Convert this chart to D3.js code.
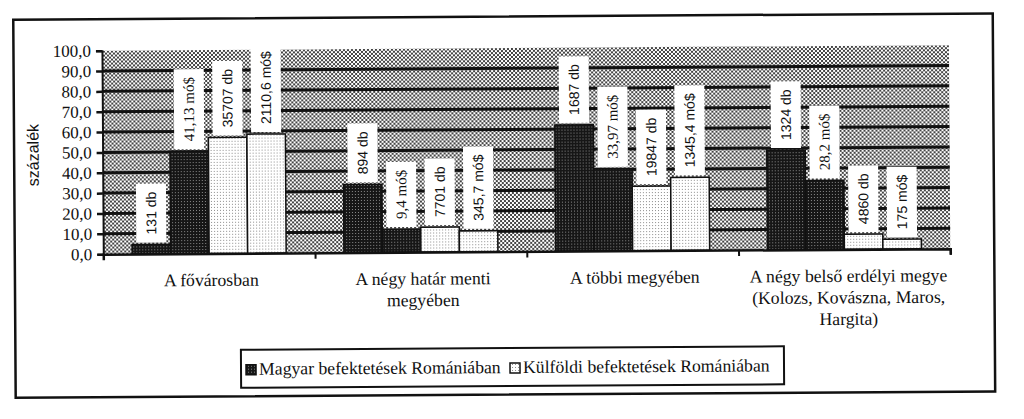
<!DOCTYPE html>
<html>
<head>
<meta charset="utf-8">
<script src="https://d3js.org/d3.v7.min.js"></script>
<style>
  body { margin: 0; background: #fff; }
</style>
</head>
<body>
<svg width="1024" height="419"></svg>
<script>

  var categories = ["A fővárosban", "A négy határ menti megyében", "A többi megyében", "A négy belső erdélyi megye (Kolozs, Kovászna, Maros, Hargita)"];
  var categoryLines = [["A fővárosban"], ["A négy határ menti", "megyében"], ["A többi megyében"], ["A négy belső erdélyi megye", "(Kolozs, Kovászna, Maros,", "Hargita)"]];

  // percentages, plus the text printed above each bar
  var magyarDb = [4.6, 33.5, 62.0, 49.0];
  var magyarDbLabels = ["131 db", "894 db", "1687 db", "1324 db"];
  var magyarMo = [50.3, 11.4, 40.3, 34.0];
  var magyarMoLabels = ["41,13 mó$", "9,4 mó$", "33,97 mó$", "28,2 mó$"];
  var kulfoldiDb = [57.0, 12.2, 31.7, 7.4];
  var kulfoldiDbLabels = ["35707 db", "7701 db", "19847 db", "4860 db"];
  var kulfoldiMo = [58.5, 10.3, 35.9, 4.8];
  var kulfoldiMoLabels = ["2110,6 mó$", "345,7 mó$", "1345,4 mó$", "175 mó$"];

  var yTicks = [0, 10, 20, 30, 40, 50, 60, 70, 80, 90, 100];
  var legendNames = ["Magyar befektetések Romániában", "Külföldi befektetések Romániában"];

  var sans = "'Liberation Sans', Arial, sans-serif";
  var serif = "'Liberation Serif', 'Times New Roman', serif";

  var series = [
    { key: "magyarDb", values: magyarDb, labels: magyarDbLabels, dark: true, font: sans, size: 14 },
    { key: "magyarMo", values: magyarMo, labels: magyarMoLabels, dark: true, font: serif, size: 15 },
    { key: "kulfoldiDb", values: kulfoldiDb, labels: kulfoldiDbLabels, dark: false, font: sans, size: 14 },
    { key: "kulfoldiMo", values: kulfoldiMo, labels: kulfoldiMoLabels, dark: false, font: sans, size: 14 }
  ];

  var svg = d3.select("svg");

  // halftone fills
  var defs = svg.append("defs");
  var bg = defs.append("pattern").attr("id", "bgDots").attr("width", 4).attr("height", 4).attr("patternUnits", "userSpaceOnUse");
  bg.append("rect").attr("width", 4).attr("height", 4).attr("fill", "#fff");
  bg.append("rect").attr("width", 2).attr("height", 2).attr("fill", "#444");
  bg.append("rect").attr("x", 2).attr("y", 2).attr("width", 2).attr("height", 2).attr("fill", "#444");

  var dk = defs.append("pattern").attr("id", "darkDots").attr("width", 3).attr("height", 3).attr("patternUnits", "userSpaceOnUse");
  dk.append("rect").attr("width", 3).attr("height", 3).attr("fill", "#161616");
  dk.append("rect").attr("x", 1).attr("y", 1).attr("width", 1).attr("height", 1).attr("fill", "#8a8a8a");

  var lt = defs.append("pattern").attr("id", "lightDots").attr("width", 3).attr("height", 3).attr("patternUnits", "userSpaceOnUse");
  lt.append("rect").attr("width", 3).attr("height", 3).attr("fill", "#fff");
  lt.append("rect").attr("x", 1).attr("y", 1).attr("width", 1).attr("height", 1).attr("fill", "#8c8c8c");

  // the scanned page is a little tilted
  var g = svg.append("g").attr("transform", "rotate(-0.37, 512, 210)");

  g.append("rect")
    .attr("x", 14.5).attr("y", 16.5).attr("width", 979.5).attr("height", 378)
    .attr("fill", "none").attr("stroke", "#111").attr("stroke-width", 2.5);

  var plotLeft = 103, plotRight = 950, plotTop = 48, plotBottom = 251.5;

  var x0 = d3.scaleBand().domain(categories).range([plotLeft, plotRight]).paddingInner(0).paddingOuter(0);
  var x1 = d3.scaleBand().domain(series.map(function(s) { return s.key; })).range([0, x0.bandwidth()]).paddingInner(0).paddingOuter(0.75);
  var y = d3.scaleLinear().domain([0, 100]).range([plotBottom, plotTop]);

  g.append("rect")
    .attr("x", plotLeft).attr("y", plotTop).attr("width", plotRight - plotLeft).attr("height", plotBottom - plotTop)
    .attr("fill", "url(#bgDots)");

  g.append("g")
    .selectAll("line")
    .data(yTicks.filter(function(d) { return d > 0 && d < 100; }))
    .enter()
    .append("line")
    .attr("x1", plotLeft).attr("x2", plotRight)
    .attr("y1", function(d) { return y(d); }).attr("y2", function(d) { return y(d); })
    .attr("stroke", "#111").attr("stroke-width", 3);

  var yAxis = g.append("g")
    .attr("transform", "translate(" + plotLeft + ",0)")
    .call(d3.axisLeft(y).tickValues(yTicks).tickSize(6).tickPadding(5)
      .tickFormat(function(d) { return d.toFixed(1).replace(".", ","); }));
  yAxis.select(".domain").attr("stroke", "#111").attr("stroke-width", 2);
  yAxis.selectAll(".tick line").attr("stroke", "#111").attr("stroke-width", 2.5);
  yAxis.selectAll("text").attr("font-family", serif).attr("font-size", 17).attr("fill", "#111");

  g.append("text")
    .attr("transform", "translate(39, 152)rotate(-90)")
    .attr("text-anchor", "middle")
    .attr("font-family", sans)
    .attr("font-size", 16)
    .attr("fill", "#111")
    .text("százalék");

  // bars
  series.forEach(function(s) {
    g.append("g")
      .selectAll("rect")
      .data(s.values)
      .enter()
      .append("rect")
      .attr("x", function(d, i) { return x0(categories[i]) + x1(s.key); })
      .attr("y", function(d) { return y(d); })
      .attr("width", x1.bandwidth())
      .attr("height", function(d) { return y(0) - y(d); })
      .attr("fill", s.dark ? "url(#darkDots)" : "url(#lightDots)")
      .attr("stroke", "#111").attr("stroke-width", 1.5);
  });

  // x axis
  var xAxis = g.append("g")
    .attr("transform", "translate(0," + plotBottom + ")")
    .call(d3.axisBottom(d3.scaleLinear().domain([0, 4]).range([plotLeft, plotRight])).tickValues([1, 2, 3, 4]).tickSize(6).tickFormat(""));
  xAxis.select(".domain").attr("stroke", "#111").attr("stroke-width", 2.5);
  xAxis.selectAll(".tick line").attr("stroke", "#111").attr("stroke-width", 2);

  // rotated value labels in white boxes above the bars
  series.forEach(function(s) {
    s.values.forEach(function(v, i) {
      var cx = x0(categories[i]) + x1(s.key) + x1.bandwidth() / 2;
      var base = y(v) - 2;
      var box = g.append("rect").attr("fill", "#fff");
      var t = g.append("text")
        .attr("font-family", s.font)
        .attr("font-size", s.size)
        .attr("fill", "#111")
        .text(s.labels[i]);
      var len = t.node().getComputedTextLength();
      var pad = 8;
      var h = len + pad * 2;
      box.attr("x", cx - 15).attr("y", base - h).attr("width", 30).attr("height", h);
      t.attr("transform", "translate(" + (cx + 5) + "," + (base - pad) + ")rotate(-90)");
    });
  });

  // category names
  categoryLines.forEach(function(lines, i) {
    g.append("g")
      .selectAll("text")
      .data(lines)
      .enter()
      .append("text")
      .attr("x", x0(categories[i]) + x0.bandwidth() / 2 + (i == 3 ? 4 : 2))
      .attr("y", function(d, j) { return 284 + j * 21.5; })
      .attr("text-anchor", "middle")
      .attr("font-family", serif)
      .attr("font-size", 17.7)
      .attr("fill", "#111")
      .text(function(d) { return d; });
  });

  // legend
  g.append("rect")
    .attr("x", 240).attr("y", 348).attr("width", 543).attr("height", 38)
    .attr("fill", "#fff").attr("stroke", "#111").attr("stroke-width", 2);

  var legendX = [245, 509];
  legendNames.forEach(function(name, i) {
    g.append("rect")
      .attr("x", legendX[i]).attr("y", 363).attr("width", 10).attr("height", 10)
      .attr("fill", i == 0 ? "url(#darkDots)" : "url(#lightDots)")
      .attr("stroke", "#111").attr("stroke-width", 1.5);
    g.append("text")
      .attr("x", legendX[i] + 13).attr("y", 373)
      .attr("font-family", serif)
      .attr("font-size", 17.7)
      .attr("fill", "#111")
      .text(name);
  });
</script>
</body>
</html>
